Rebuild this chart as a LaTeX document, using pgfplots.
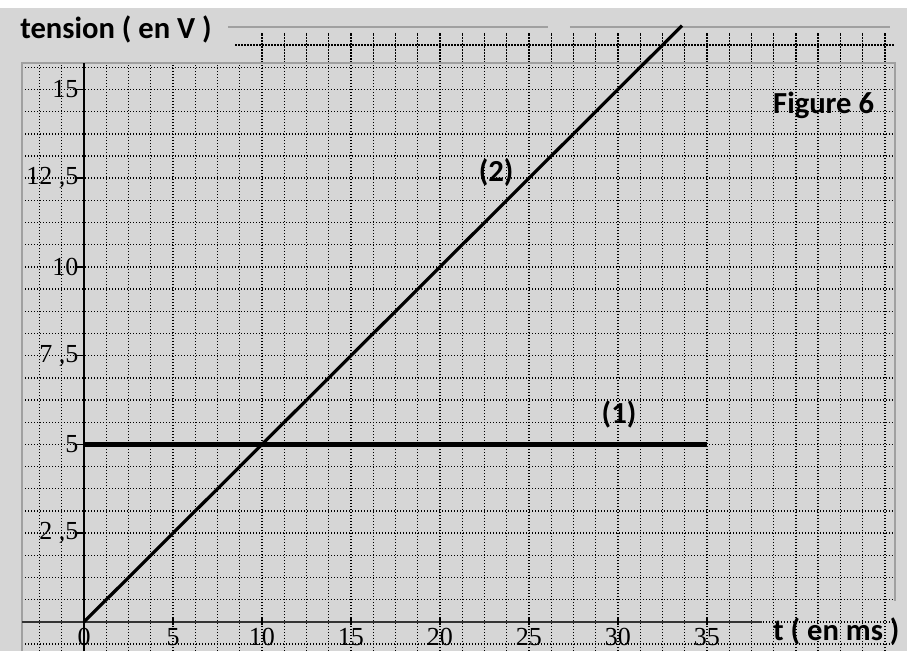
\documentclass[border=0pt]{standalone}
\usepackage{pgfplots}
\pgfplotsset{compat=1.18}
\usepackage{fontspec}
\setmainfont{Carlito}
\newfontfamily\serif{Liberation Serif}
\definecolor{bg}{RGB}{214,214,214}
\definecolor{frame}{RGB}{160,160,160}
\tikzset{griddot/.style={black, line width=0.7pt, dash pattern=on 0.7pt off 0.8pt}}
\begin{document}
\begin{tikzpicture}
\begin{axis}[
  x=8.9pt, y=17.75pt,
  xmin=-4.72, xmax=46.24, ymin=-0.82, ymax=17.52,
  axis line style={draw=none},
  xtick=\empty, ytick=\empty,
  axis background/.style={fill=bg},
  clip=false,
]
\fill[white] (axis cs:-4.72,17.3) rectangle (axis cs:46.24,17.52);
% grid
\pgfplotsinvokeforeach{-2.5,-1.25,...,45}{
  \draw[griddot] (axis cs:#1,-0.82) -- (axis cs:#1,15.75);
}
\pgfplotsinvokeforeach{10,11.25,...,45}{
  \draw[griddot] (axis cs:#1,15.75) -- (axis cs:#1,16.6);
}
\pgfplotsinvokeforeach{-0.625,0,...,15.7}{
  \draw[griddot] (axis cs:-3.48,#1) -- (axis cs:45.56,#1);
}
\draw[griddot] (axis cs:8.5,16.25) -- (axis cs:45.56,16.25);
% frame
\draw[frame, line width=0.8pt] (axis cs:-3.48,-0.82) -- (axis cs:-3.48,15.75) -- (axis cs:45.56,15.75) -- (axis cs:45.56,0.6);
\draw[frame, line width=0.8pt] (axis cs:8.09,16.76) -- (axis cs:26.07,16.76);
\draw[frame, line width=0.8pt] (axis cs:27.3,16.76) -- (axis cs:45.28,16.76);
% axes
\draw[black!80, line width=1.1pt] (axis cs:-3.48,0) -- (axis cs:38.1,0);
\draw[black, line width=1.2pt] (axis cs:0,-0.82) -- (axis cs:0,15.75);
\pgfplotsinvokeforeach{5,10,15,20,25,30,35}{
  \draw[black, line width=0.8pt] (axis cs:#1,-0.1) -- (axis cs:#1,0.12);
}
\pgfplotsinvokeforeach{2.5,5,7.5,10,12.5,15}{
  \draw[black, line width=0.8pt] (axis cs:-0.45,#1) -- (axis cs:0,#1);
}
% tick labels
\pgfplotsinvokeforeach{0,5,10,15,20,25,30,35}{
  \node[font=\serif\fontsize{13}{14}\selectfont, inner sep=0pt] at (axis cs:#1,-0.42) {#1};
}
\node[font=\serif\fontsize{13}{14}\selectfont, inner sep=0pt, anchor=east] at (axis cs:-0.3,15) {15};
\node[font=\serif\fontsize{13}{14}\selectfont, inner sep=0pt, anchor=east] at (axis cs:-0.3,12.5) {12 ,5};
\node[font=\serif\fontsize{13}{14}\selectfont, inner sep=0pt, anchor=east] at (axis cs:-0.3,10) {10};
\node[font=\serif\fontsize{13}{14}\selectfont, inner sep=0pt, anchor=east] at (axis cs:-0.3,7.5) {7 ,5};
\node[font=\serif\fontsize{13}{14}\selectfont, inner sep=0pt, anchor=east] at (axis cs:-0.3,5) {5};
\node[font=\serif\fontsize{13}{14}\selectfont, inner sep=0pt, anchor=east] at (axis cs:-0.3,2.5) {2 ,5};
% data
\addplot[black, line width=1.6pt] coordinates {(0,0) (33.6,16.8)};
\addplot[black, line width=2.2pt] coordinates {(0,5) (35,5)};
% texts
\node[font=\fontsize{15.3}{17}\selectfont\bfseries, inner sep=0pt, anchor=west] at (axis cs:-3.6,16.68) {tension ( en V )};
\node[font=\fontsize{15.3}{17}\selectfont\bfseries, inner sep=0pt, anchor=west] at (axis cs:38.7,-0.28) {t ( en ms )};
\node[font=\fontsize{15.3}{17}\selectfont\bfseries, inner sep=0pt, anchor=west] at (axis cs:38.7,14.56) {Figure 6};
\node[font=\fontsize{15.3}{17}\selectfont\bfseries, inner sep=0pt] at (axis cs:23.15,12.65) {(2)};
\node[font=\fontsize{15.3}{17}\selectfont\bfseries, inner sep=0pt] at (axis cs:30.06,5.83) {(1)};
\end{axis}
\end{tikzpicture}
\end{document}
